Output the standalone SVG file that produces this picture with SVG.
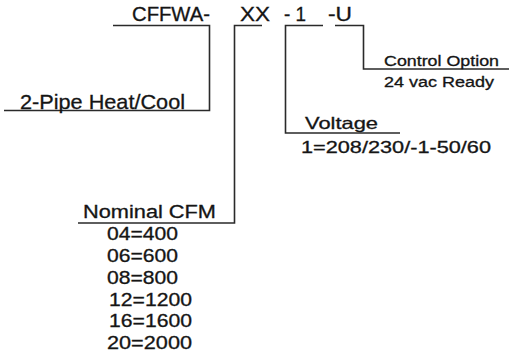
<svg xmlns="http://www.w3.org/2000/svg" width="509" height="358" viewBox="0 0 509 358">
<style>
  text { font-family: "Liberation Sans", Arial, sans-serif; fill: #151515; stroke: #151515; stroke-width: 0.3; }
  .t19 { font-size: 19.5px; }
  .t21 { font-size: 21px; }
  .t14 { font-size: 14px; }
  .t16 { font-size: 16.5px; }
  .t17 { font-size: 17px; }
  .t18 { font-size: 18px; }
  .conn { fill: none; stroke: #2a2a2a; stroke-width: 1.6; }
</style>
<rect width="509" height="358" fill="#ffffff"/>
<g id="connectors">
  <polyline class="conn" points="113,25.5 209.5,25.5 209.5,110.5 4,110.5"/>
  <polyline class="conn" points="262,25.5 234.5,25.5 234.5,223 78,223"/>
  <polyline class="conn" points="323,25.5 285.5,25.5 285.5,133 400,133"/>
  <polyline class="conn" points="335,25.5 363.5,25.5 363.5,69 509,69"/>
</g>
<g id="model-code">
  <text class="t19" x="132" y="21" textLength="78" lengthAdjust="spacingAndGlyphs">CFFWA-</text>
  <text class="t19" x="240" y="21" textLength="30" lengthAdjust="spacingAndGlyphs">XX</text>
  <text class="t19" x="284" y="21" textLength="22" lengthAdjust="spacingAndGlyphs">- 1</text>
  <text class="t19" x="328" y="21" textLength="24" lengthAdjust="spacingAndGlyphs">-U</text>
</g>
<g id="node-pipe">
  <text class="t21" x="20" y="108.5" textLength="165" lengthAdjust="spacingAndGlyphs">2-Pipe Heat/Cool</text>
</g>
<g id="node-control">
  <text class="t14" x="384" y="66" textLength="115" lengthAdjust="spacingAndGlyphs">Control Option</text>
  <text class="t14" x="384" y="87" textLength="110" lengthAdjust="spacingAndGlyphs">24 vac Ready</text>
</g>
<g id="node-voltage">
  <text class="t16" x="305" y="128.5" textLength="73" lengthAdjust="spacingAndGlyphs">Voltage</text>
  <text class="t17" x="301" y="153" textLength="190" lengthAdjust="spacingAndGlyphs">1=208/230/-1-50/60</text>
</g>
<g id="node-cfm">
  <text class="t18" x="83" y="218" textLength="133" lengthAdjust="spacingAndGlyphs">Nominal CFM</text>
  <text class="t18" x="107" y="240" textLength="71" lengthAdjust="spacingAndGlyphs">04=400</text>
  <text class="t18" x="107" y="262" textLength="71" lengthAdjust="spacingAndGlyphs">06=600</text>
  <text class="t18" x="107" y="284" textLength="71" lengthAdjust="spacingAndGlyphs">08=800</text>
  <text class="t18" x="109" y="306" textLength="83" lengthAdjust="spacingAndGlyphs">12=1200</text>
  <text class="t18" x="109" y="327" textLength="83" lengthAdjust="spacingAndGlyphs">16=1600</text>
  <text class="t18" x="107" y="349" textLength="85" lengthAdjust="spacingAndGlyphs">20=2000</text>
</g>
</svg>
